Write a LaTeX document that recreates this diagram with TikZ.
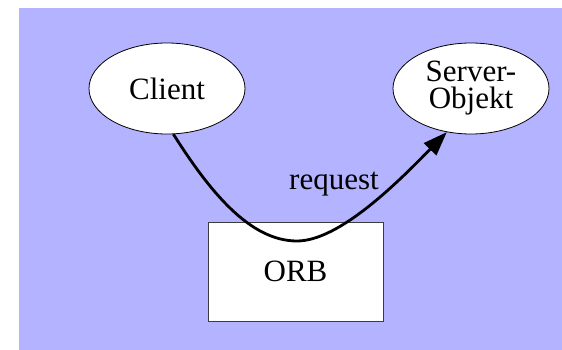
\documentclass[tikz,border=0pt]{standalone}
\usepackage{fontspec}
\setmainfont{Liberation Serif}
\usetikzlibrary{arrows.meta,shapes.geometric}
\definecolor{bgblue}{RGB}{179,179,255}
\definecolor{edgegray}{RGB}{60,60,60}
\tikzset{
  x=1pt,y=1pt,
  oval/.style={ellipse,draw=black,line width=0.8pt,fill=white,minimum width=156pt,minimum height=91pt,inner sep=0pt,align=center,font=\fontsize{31}{27}\selectfont},
  orbbox/.style={rectangle,draw=edgegray,line width=0.8pt,fill=white,minimum width=175pt,minimum height=99pt,inner sep=0pt,font=\fontsize{31}{36}\selectfont},
  lbl/.style={font=\fontsize{31}{36}\selectfont,inner sep=0pt},
  req/.style={line width=2.8pt,-{Triangle[length=24pt,width=17pt]}}
}
\begin{document}
\begin{tikzpicture}
\useasboundingbox (0,0) rectangle (562,-350);
\fill[bgblue] (19,-8) rectangle (562,-350);
\node[orbbox] (orb) at (295.5,-271.5) {ORB};
\node[oval] (cl) at (167,-88.5) {Client};
\node[oval] (srv) at (471,-88.5) {Server-\\Objekt};
\node[lbl,anchor=base] (rq) at (334,-189) {request};
\coordinate (low) at (297,-241);
\draw[req] (cl.-82) .. controls (210,-192) and (250,-241) .. (low)
  .. controls (340,-241) and (400,-180) .. (srv.-119);
\end{tikzpicture}
\end{document}
